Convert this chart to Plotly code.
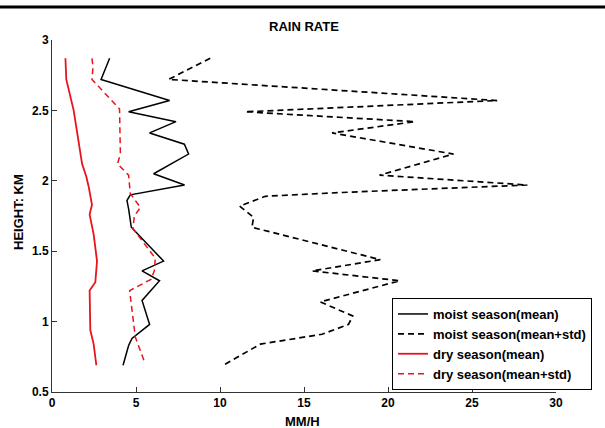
import plotly.graph_objects as go

# moist season (mean)
moist_mean_x = [3.43, 2.92, 7.00, 4.56, 7.38, 5.81, 7.88, 8.13, 6.05, 7.89, 4.66, 4.46, 4.56, 4.72,
                6.64, 5.36, 6.40, 5.36, 5.81, 4.76, 4.56, 4.23]
moist_mean_h = [2.87, 2.72, 2.57, 2.49, 2.42, 2.34, 2.26, 2.19, 2.05, 1.97, 1.90, 1.86, 1.80, 1.67,
                1.43, 1.36, 1.29, 1.15, 0.98, 0.88, 0.83, 0.69]

# moist season (mean+std)
moist_std_x = [9.42, 6.94, 26.5, 11.5, 21.6, 16.67, 23.9, 19.5, 28.3, 17.8, 12.7, 11.17, 12.0, 11.9,
               19.54, 15.48, 20.7, 15.97, 17.9, 17.65, 16.07, 12.4, 10.2]
moist_std_h = [2.87, 2.72, 2.57, 2.49, 2.42, 2.34, 2.19, 2.04, 1.97, 1.92, 1.89, 1.82, 1.74, 1.67,
               1.44, 1.36, 1.29, 1.14, 1.04, 0.98, 0.91, 0.84, 0.69]

# dry season (mean)
dry_mean_x = [0.80, 0.85, 1.29, 1.79, 2.04, 2.18, 2.38, 2.24, 2.48, 2.68, 2.58, 2.24, 2.28, 2.48, 2.64]
dry_mean_h = [2.87, 2.72, 2.50, 2.12, 2.03, 1.96, 1.83, 1.76, 1.62, 1.43, 1.28, 1.22, 0.94, 0.84, 0.69]

# dry season (mean+std)
dry_std_x = [2.38, 2.44, 2.38, 3.07, 4.02, 4.07, 3.90, 4.56, 4.66, 5.26, 4.90, 4.82, 6.15, 6.09,
             5.89, 4.62, 4.86, 4.96, 5.55]
dry_std_h = [2.87, 2.81, 2.72, 2.63, 2.51, 2.19, 2.12, 2.04, 1.91, 1.81, 1.75, 1.66, 1.45, 1.36,
             1.30, 1.22, 0.96, 0.89, 0.70]

x_ticks = [0, 5, 10, 15, 20, 25, 30]
y_ticks = [0.5, 1, 1.5, 2, 2.5, 3]
y_tick_labels = ["0.5", "1", "1.5", "2", "2.5", "3"]

RED = "#e8141c"
fig = go.Figure()
fig.add_trace(go.Scatter(x=moist_mean_x, y=moist_mean_h, mode="lines", name="moist season(mean)",
                         line=dict(color="black", width=1.5)))
fig.add_trace(go.Scatter(x=moist_std_x, y=moist_std_h, mode="lines", name="moist season(mean+std)",
                         line=dict(color="black", width=1.7, dash="6px,4px")))
fig.add_trace(go.Scatter(x=dry_mean_x, y=dry_mean_h, mode="lines", name="dry season(mean)",
                         line=dict(color=RED, width=1.8)))
fig.add_trace(go.Scatter(x=dry_std_x, y=dry_std_h, mode="lines", name="dry season(mean+std)",
                         line=dict(color=RED, width=1.5, dash="6px,4px")))

L, R, T, B = 52, 49, 40, 36
W, H = 605, 428
pw, ph = W - L - R, H - T - B

def py(p):  # page pixel row -> paper y
    return (H - B - p) / ph

font_family = "Liberation Sans, Arial, sans-serif"
fig.update_layout(
    width=W, height=H,
    margin=dict(l=L, r=R, t=T, b=B, autoexpand=False),
    paper_bgcolor="white", plot_bgcolor="white",
    font=dict(family=font_family, color="black", size=12),
    title=dict(text="<b>RAIN RATE</b>", x=(L + W - R) / 2 / W, xanchor="center",
               y=1 - 26 / H, yanchor="middle", font=dict(size=13)),
    showlegend=True,
    legend=dict(x=(392 - L) / pw, y=py(298), xanchor="left", yanchor="top",
                bgcolor="white", bordercolor="black", borderwidth=1,
                font=dict(size=13, weight="bold"), itemwidth=30,
                tracegroupgap=0),
    shapes=[dict(type="line", xref="paper", yref="paper", x0=-L / pw, x1=(W - L) / pw,
                 y0=py(7), y1=py(7), line=dict(color="black", width=3), layer="above")],
    annotations=[
        dict(text="<b>MM/H</b>", xref="paper", yref="paper", x=(302 - L) / pw,
             y=py(421.5), xanchor="center", yanchor="middle",
             showarrow=False, font=dict(size=13)),
        dict(text="<b>HEIGHT: KM</b>", xref="paper", yref="paper", x=(18 - L) / pw,
             y=py(212), xanchor="center", yanchor="middle", textangle=-90,
             showarrow=False, font=dict(size=13)),
    ],
)
fig.update_xaxes(range=[0, 30], tickvals=x_ticks, ticks="inside", ticklen=5, tickcolor="#333",
                 showline=True, linecolor="#333", linewidth=1, showgrid=False, zeroline=False,
                 automargin=False, tickfont=dict(size=12, weight="bold"))
fig.update_yaxes(range=[0.5, 3], tickvals=y_ticks, ticktext=y_tick_labels, ticks="inside", ticklen=5,
                 tickcolor="#333", showline=True, linecolor="#333", linewidth=1, showgrid=False,
                 zeroline=False, automargin=False, tickfont=dict(size=12, weight="bold"))

# plot fills the window exactly (no default page margin)
fig.write_html("out.html", config={"displayModeBar": False},
               post_script="document.body.style.margin='0px';"
                           "var gd=document.getElementsByClassName('plotly-graph-div')[0];"
                           "Plotly.relayout(gd, {});")
